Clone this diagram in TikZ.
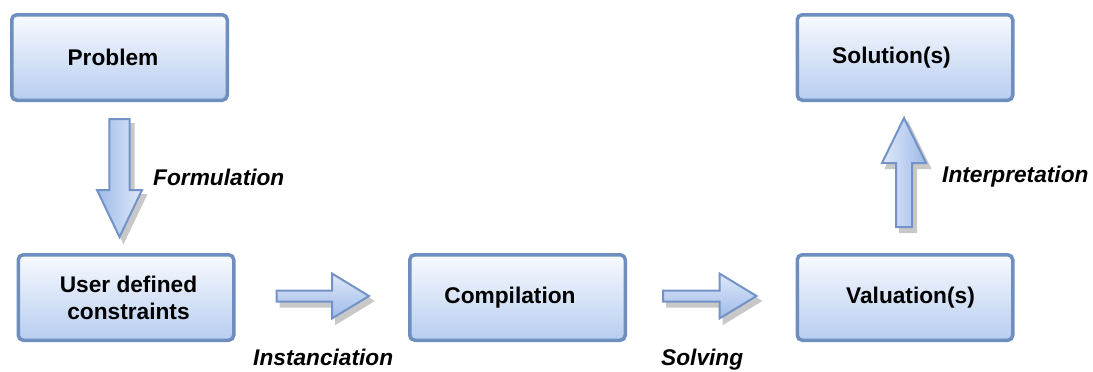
\documentclass[tikz,border=0pt]{standalone}
\usepackage{fontspec}
\setmainfont{Liberation Sans}
\usetikzlibrary{calc}

\definecolor{boxedge}{HTML}{6E8EBF}
\definecolor{boxtop}{HTML}{F8FAFE}
\definecolor{boxbottom}{HTML}{B7CDF0}
\definecolor{arrowedge}{HTML}{7393C6}
\definecolor{arrowlight}{HTML}{DEE8F9}
\definecolor{arrowdark}{HTML}{9FBBE9}
\definecolor{arrowshade}{HTML}{C8C8C8}

\tikzset{
  stage/.style={draw=boxedge, line width=3.5pt, rounded corners=5pt,
    top color=boxtop, bottom color=boxbottom,
    minimum width=215.5pt, minimum height=85.5pt, inner sep=0pt,
    align=center, font=\fontsize{22.7}{27}\selectfont\bfseries},
  action/.style={font=\fontsize{22.7}{26}\selectfont\bfseries\itshape,
    inner sep=0pt, anchor=base west},
  blockbody/.style={draw=arrowedge, line width=2pt, line join=miter},
  blockshadow/.style={fill=arrowshade, draw=arrowshade, line width=2pt,
    transform canvas={shift={(4pt,-5pt)}}},
}

% block arrow: #1 name of head base, #2 tail, #3 tip,
% #4 shaft half width, #5 head half width, #6 head length, #7 shading
\newcommand\blockarrow[7]{%
  \coordinate (#1) at ($(#3)!#6!(#2)$);
  \fill[blockshadow] ($(#2)!#4!90:(#3)$) -- ($(#1)!#4!90:(#3)$)
    -- ($(#1)!#5!90:(#3)$) -- (#3) -- ($(#1)!#5!-90:(#3)$)
    -- ($(#1)!#4!-90:(#3)$) -- ($(#2)!#4!-90:(#3)$) -- cycle;
  \draw[blockbody,#7] ($(#2)!#4!90:(#3)$) -- ($(#1)!#4!90:(#3)$)
    -- ($(#1)!#5!90:(#3)$) -- (#3) -- ($(#1)!#5!-90:(#3)$)
    -- ($(#1)!#4!-90:(#3)$) -- ($(#2)!#4!-90:(#3)$) -- cycle;
}
% horizontal nudge of a stage caption inside its box
\newcommand\nudge[1]{\hspace*{#1}}

\begin{document}
\begin{tikzpicture}[x=1pt, y=-1pt]
  \useasboundingbox (0,0) rectangle (1093,372);

  % stages
  \node[stage] (problem)     at (119.5,57.5)  {\nudge{-13pt}Problem};
  \node[stage] (solution)    at (905,57.5)    {\nudge{-27pt}Solution(s)};
  \node[stage] (user)        at (126,297.5)   {\nudge{5pt}User defined\\\nudge{5pt}constraints};
  \node[stage] (compilation) at (517.5,297.5) {\nudge{-15pt}Compilation};
  \node[stage] (valuation)   at (905,297.5)   {\nudge{11pt}Valuation(s)};

  % arrow ends
  \coordinate (f0) at ($(problem.south)+(0,17)$);
  \coordinate (f1) at ($(problem.south |- user.north)+(0,-16)$);
  \coordinate (i0) at ($(user.east)+(41,-1.5)$);
  \coordinate (i1) at ($(compilation.west)+(-39,-1.5)$);
  \coordinate (s0) at ($(compilation.east)+(36,-1.5)$);
  \coordinate (s1) at ($(valuation.west)+(-39,-1.5)$);
  \coordinate (p0) at ($(valuation.north)+(-1,-26)$);
  \coordinate (p1) at ($(solution.south)+(-1,16)$);

  % block arrows
  \blockarrow{fh}{f0}{f1}{10.2pt}{22.5pt}{47pt}{left color=arrowdark, right color=arrowlight}
  \blockarrow{ih}{i0}{i1}{5.5pt}{22.5pt}{37pt}{top color=arrowlight, bottom color=arrowdark}
  \blockarrow{sh}{s0}{s1}{5.5pt}{22.5pt}{37pt}{top color=arrowlight, bottom color=arrowdark}
  \blockarrow{ph}{p0}{p1}{8pt}{22pt}{45pt}{left color=arrowlight, right color=arrowdark}

  % step labels
  \node[action] (formulation)    at (153,185) {Formulation};
  \node[action] (instanciation)  at (253,365) {Instanciation};
  \node[action] (solving)        at (661,365) {Solving};
  \node[action] (interpretation) at (942,182) {Interpretation};
\end{tikzpicture}
\end{document}
